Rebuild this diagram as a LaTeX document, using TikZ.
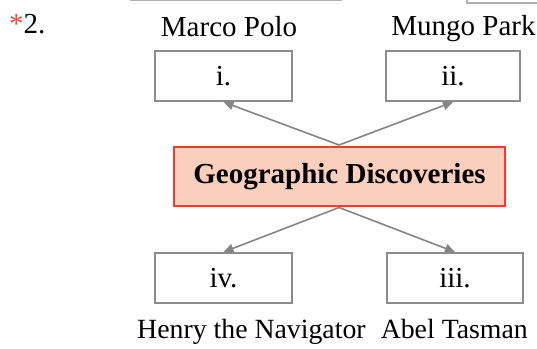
\documentclass[tikz,border=0pt]{standalone}
\usepackage{fontspec}
\setmainfont{Liberation Serif}
\usetikzlibrary{arrows.meta}
\definecolor{boxgray}{HTML}{8C8C8C}
\definecolor{arrgray}{HTML}{858585}
\definecolor{peach}{HTML}{FBCFBD}
\definecolor{redline}{HTML}{F03A34}
\definecolor{astred}{HTML}{F04545}
\tikzset{
  txt/.style={font=\fontsize{29}{34}\selectfont, inner sep=0pt},
  btxt/.style={font=\fontsize{27.8}{33}\selectfont, inner sep=0pt},
  answerbox/.style={draw=boxgray, line width=2pt, fill=white, minimum height=50pt, inner sep=0pt, font=\fontsize{29}{34}\selectfont},
  mainbox/.style={draw=redline, line width=1.6pt, fill=peach, minimum width=331pt, minimum height=59pt, inner sep=0pt, font=\fontsize{29}{34}\selectfont\bfseries},
  conn/.style={draw=arrgray, line width=1.6pt, -{Triangle[length=10pt,width=9pt]}},
  frag/.style={draw=boxgray!70, line width=1.5pt}
}
\begin{document}
\begin{tikzpicture}[x=1pt,y=-1pt]
\useasboundingbox (0,0) rectangle (537,348);
% fragments of neighbouring boxes
\draw[frag] (130,0.5) -- (342,0.5);
\draw[frag] (467,0) -- (467,3) -- (537,3);
% question number
\node[txt, anchor=base west] (qnum) at (9,33) {{\color{astred}*}2.};
% labels
\node[txt, anchor=base] (marco) at (229,36) {Marco Polo};
\node[txt, anchor=base] (mungo) at (463.5,35) {Mungo Park};
\node[btxt, anchor=base west] (henry) at (137,338) {Henry the Navigator};
\node[btxt, anchor=base east] (abel) at (528,338) {Abel Tasman};
% boxes
\node[answerbox, minimum width=137pt] (bi) at (223.5,76) {i.};
\node[answerbox, minimum width=134pt] (bii) at (453,76) {ii.};
\node[answerbox, minimum width=137pt] (biv) at (223.5,278) {iv.};
\node[answerbox, minimum width=136pt] (biii) at (455,278) {iii.};
\node[mainbox] (main) at (339.5,176.5) {Geographic Discoveries};
% connectors
\coordinate (ctop) at (339,145);
\coordinate (cbot) at (339,207.5);
\draw[conn] (ctop) -- (bi.south);
\draw[conn] (ctop) -- (bii.south);
\draw[conn] (cbot) -- (biv.north);
\draw[conn] (cbot) -- (biii.north);
\end{tikzpicture}
\end{document}
